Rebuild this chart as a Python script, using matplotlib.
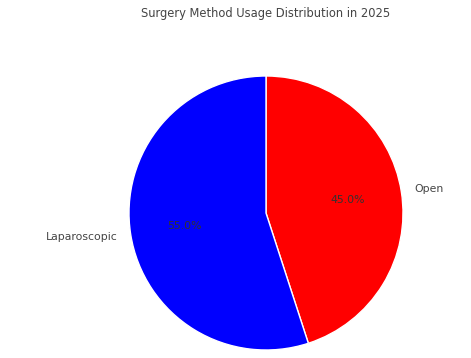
import matplotlib
matplotlib.use("Agg")
import matplotlib.pyplot as plt

labels = ["Open", "Laparoscopic"]
sizes = [45.0, 55.0]
colors = ["#ff0000", "#0000ff"]
title = "Surgery Method Usage Distribution in 2025"

W, H = 471, 358
fig = plt.figure(figsize=(W / 100, H / 100), dpi=100)
R = 137
cx, cy = 266, 358 - 213
side = R * 2.5
ax = fig.add_axes([(cx - side / 2) / W, (cy - side / 2) / H, side / W, side / H])
wedges, texts, autotexts = ax.pie(
    sizes, labels=labels, colors=colors, autopct="%1.1f%%", startangle=90,
    counterclock=False, wedgeprops=dict(edgecolor="white", linewidth=1),
    textprops=dict(color="#444444", fontsize=7.8),
)
for t in autotexts:
    t.set_color("#333333")
ax.set_aspect("equal")
fig.text(cx / W, 1 - 14 / H, title, ha="center", va="center", fontsize=8.3, color="#444444")
fig.savefig("out.png", dpi=100)
